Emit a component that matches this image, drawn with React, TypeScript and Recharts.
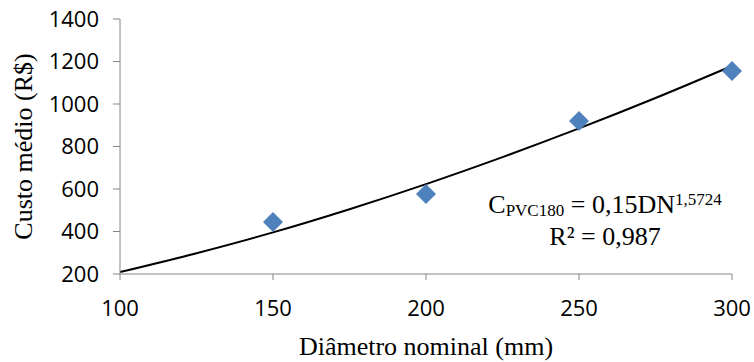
import React from 'react'
import { ComposedChart, Line, Scatter, XAxis, YAxis, Label } from 'recharts'

// custo médio observado por diâmetro nominal
const diametros = [150, 200, 250, 300]
const custos = [445, 576, 920, 1155]

// curva de tendência (potência)
const trendDiametros = [100, 125, 150, 175, 200, 225, 250, 275, 300]
const trendCustos = [209, 298, 396, 505, 623, 750, 885, 1028, 1179]

const xTicks = [100, 150, 200, 250, 300]
const yTicks = [200, 400, 600, 800, 1000, 1200, 1400]

const pontos = diametros.map((x, i) => ({ x, y: custos[i] }))
const tendencia = trendDiametros.map((x, i) => ({ x, y: trendCustos[i] }))

const axisGray = '#868686'
const tickFont = { fill: '#000', fontSize: 22, fontFamily: '"Open Sans", Lato, sans-serif' }
const serif = '"Liberation Serif", "Times New Roman", serif'

const Diamond = (props: any) => {
  const { cx, cy } = props
  const r = 10
  return <path d={`M${cx},${cy - r} L${cx + r},${cy} L${cx},${cy + r} L${cx - r},${cy} Z`} fill="#4F81BD" />
}

export default function App() {
  return (
    <div style={{ position: 'absolute', left: 0, top: 0, width: 754, height: 362, background: '#fff' }}>
      <ComposedChart width={754} height={362} margin={{ top: 19, right: 22, bottom: 0, left: 0 }}>
        <XAxis
          type="number"
          dataKey="x"
          domain={[100, 300]}
          ticks={xTicks}
          tick={tickFont}
          tickSize={6}
          tickMargin={20}
          height={88}
          axisLine={{ stroke: axisGray }}
          tickLine={{ stroke: axisGray }}
          allowDuplicatedCategory={false}
        >
          <Label
            value="Diâmetro nominal (mm)"
            position="insideBottom"
            offset={7}
            style={{ fill: '#000', fontSize: 26, fontFamily: serif }}
          />
        </XAxis>
        <YAxis
          type="number"
          dataKey="y"
          domain={[200, 1400]}
          ticks={yTicks}
          tick={tickFont}
          tickSize={7}
          tickMargin={14}
          width={120}
          axisLine={{ stroke: axisGray }}
          tickLine={{ stroke: axisGray }}
        >
          <Label
            value="Custo médio (R$)"
            angle={-90}
            position="insideLeft"
            offset={23}
            style={{ textAnchor: 'middle', fill: '#000', fontSize: 26, fontFamily: serif }}
          />
        </YAxis>
        <Line
          data={tendencia}
          dataKey="y"
          type="monotone"
          stroke="#000"
          strokeWidth={2}
          dot={false}
          isAnimationActive={false}
        />
        <Scatter data={pontos} dataKey="y" shape={Diamond} isAnimationActive={false} />
      </ComposedChart>
      <div
        style={{
          position: 'absolute',
          left: 480,
          top: 189,
          width: 250,
          textAlign: 'center',
          fontFamily: serif,
          fontSize: 26,
          lineHeight: '32px',
          color: '#000',
        }}
      >
        <div>
          C<sub style={{ fontSize: 17, verticalAlign: '-3px', lineHeight: 0 }}>PVC180</sub> = 0,15DN
          <sup style={{ fontSize: 17, verticalAlign: '8px', lineHeight: 0 }}>1,5724</sup>
        </div>
        <div>R² = 0,987</div>
      </div>
    </div>
  )
}
